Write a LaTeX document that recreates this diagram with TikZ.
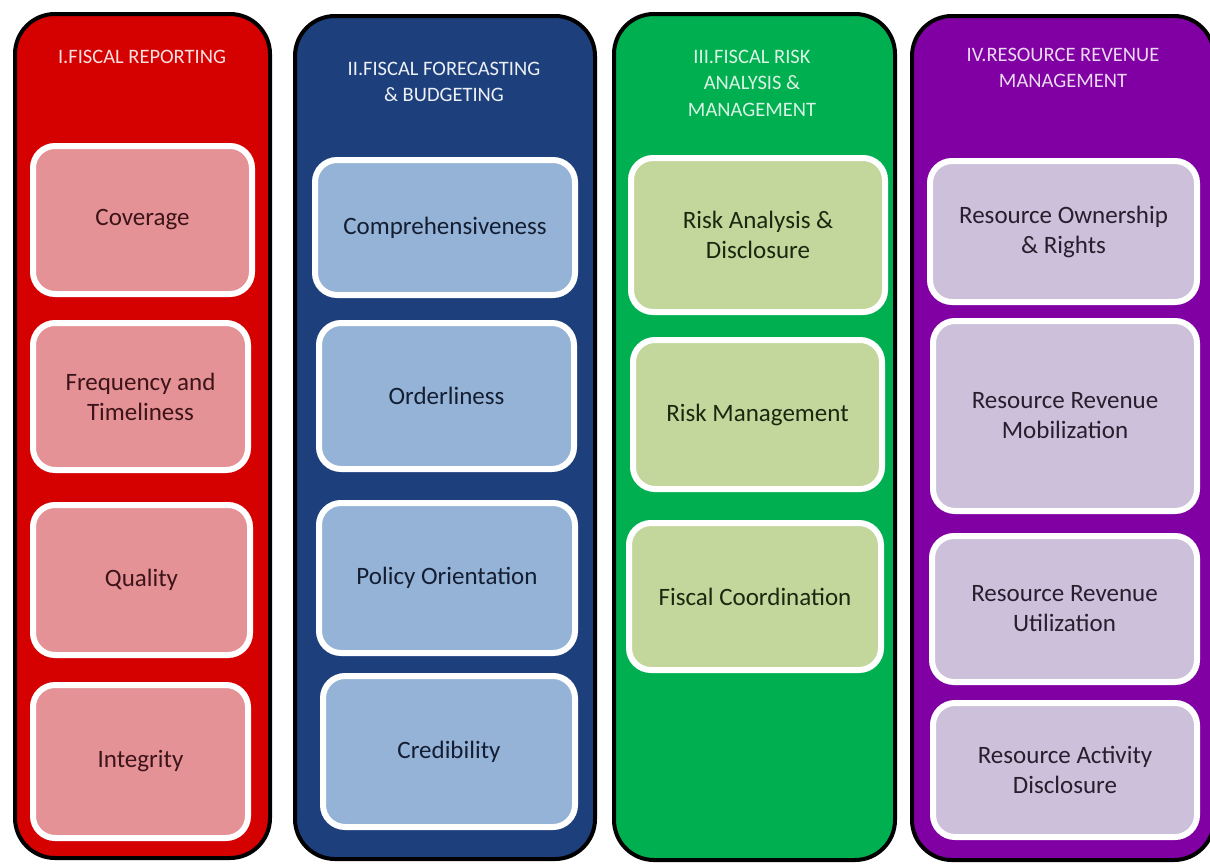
\documentclass[tikz,border=0pt]{standalone}
\usepackage{fontspec}
\setmainfont{Carlito}
\definecolor{cred}{RGB}{213,0,0}
\definecolor{cblue}{RGB}{29,64,124}
\definecolor{cgreen}{RGB}{0,176,80}
\definecolor{cpurple}{RGB}{128,0,164}
\definecolor{lred}{RGB}{228,146,150}
\definecolor{lblue}{RGB}{149,179,215}
\definecolor{lgreen}{RGB}{195,214,155}
\definecolor{lpurple}{RGB}{204,192,218}
\definecolor{tred}{RGB}{60,20,25}
\definecolor{tblue}{RGB}{20,30,50}
\definecolor{tgreen}{RGB}{25,40,15}
\definecolor{tpurple}{RGB}{40,30,45}
\tikzset{
  column/.style={draw=black, line width=4pt, rounded corners=40pt, inner sep=0pt},
  itembox/.style={draw=white, line width=6pt, rounded corners=22pt, align=center,
     font=\fontsize{25}{30}\selectfont, inner sep=0pt},
  head/.style={align=center, font=\fontsize{20.5}{26.5}\selectfont, inner sep=0pt},
}
\begin{document}
\begin{tikzpicture}[x=1pt,y=-1pt]
\useasboundingbox (0,0) rectangle (1210,865);
\clip (0,0) rectangle (1210,865);
\fill[white] (0,0) rectangle (1210,865);
% columns
\node[column, fill=cred, minimum width=255pt, minimum height=844pt] (c1) at (142.5,436) {};
\node[column, fill=cblue, minimum width=300pt, minimum height=843pt] (c2) at (445,437.5) {};
\node[column, fill=cgreen, minimum width=281pt, minimum height=846pt] (c3) at (754.5,437) {};
\node[column, fill=cpurple, minimum width=302pt, minimum height=844pt] (c4) at (1063,438) {};
% headers
\node[head, text=white!88!cred] (h1) at (142,57) {I.FISCAL REPORTING};
\node[head, text=white!92!cblue] (h2) at (444,82) {II.FISCAL FORECASTING\\\& BUDGETING};
\node[head, text=white!85!cgreen] (h3) at (752,83) {III.FISCAL RISK\\ANALYSIS \&\\MANAGEMENT};
\node[head, text=white!85!cpurple] (h4) at (1063,68) {IV.RESOURCE REVENUE\\MANAGEMENT};
% column 1
\node[itembox, fill=lred, text=tred, minimum width=219pt, minimum height=148pt] (b11) at (142.5,220) {Coverage};
\node[itembox, fill=lred, text=tred, minimum width=215pt, minimum height=147pt] (b12) at (140.5,396.5) {Frequency and\\Timeliness};
\node[itembox, fill=lred, text=tred, minimum width=217pt, minimum height=150pt] (b13) at (141.5,580) {Quality};
\node[itembox, fill=lred, text=tred, minimum width=215pt, minimum height=153pt] (b14) at (140.5,761.5) {Integrity};
% column 2
\node[itembox, fill=lblue, text=tblue, minimum width=260pt, minimum height=135pt] (b21) at (445,227.5) {Comprehensiveness};
\node[itembox, fill=lblue, text=tblue, minimum width=255pt, minimum height=146pt] (b22) at (446.5,396) {Orderliness};
\node[itembox, fill=lblue, text=tblue, minimum width=256pt, minimum height=150pt] (b23) at (447,578) {Policy Orientation};
\node[itembox, fill=lblue, text=tblue, minimum width=252pt, minimum height=151pt] (b24) at (449,751.5) {Credibility};
% column 3
\node[itembox, fill=lgreen, text=tgreen, minimum width=254pt, minimum height=154pt] (b31) at (758,235) {Risk Analysis \&\\Disclosure};
\node[itembox, fill=lgreen, text=tgreen, minimum width=249pt, minimum height=149pt] (b32) at (757.5,414.5) {Risk Management};
\node[itembox, fill=lgreen, text=tgreen, minimum width=252pt, minimum height=147pt] (b33) at (755,596.5) {Fiscal Coordination};
% column 4
\node[itembox, fill=lpurple, text=tpurple, minimum width=267pt, minimum height=141pt] (b41) at (1063.5,231.5) {Resource Ownership\\\& Rights};
\node[itembox, fill=lpurple, text=tpurple, minimum width=264pt, minimum height=190pt] (b42) at (1065,416) {Resource Revenue\\Mobilization};
\node[itembox, fill=lpurple, text=tpurple, minimum width=265pt, minimum height=146pt] (b43) at (1064.5,609) {Resource Revenue\\Utilization};
\node[itembox, fill=lpurple, text=tpurple, minimum width=264pt, minimum height=134pt] (b44) at (1065,770) {Resource Activity\\Disclosure};
\end{tikzpicture}
\end{document}
